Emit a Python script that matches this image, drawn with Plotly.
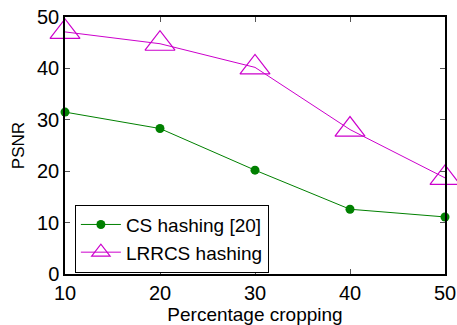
import plotly.graph_objects as go

x_vals = [10, 20, 30, 40, 50]
cs_hashing = [31.5, 28.3, 20.2, 12.6, 11.1]
lrrcs_hashing = [47.1, 44.8, 40.2, 28.1, 18.7]
x_ticks = [10, 20, 30, 40, 50]
y_ticks = [0, 10, 20, 30, 40, 50]

font_family = "Liberation Sans, Arial, sans-serif"

fig = go.Figure()
fig.add_trace(go.Scatter(
    x=x_vals, y=cs_hashing, mode="lines+markers", name="CS hashing [20]",
    line=dict(color="#008000", width=1),
    marker=dict(symbol="circle", size=9, color="#008000"),
    cliponaxis=False,
))
fig.add_trace(go.Scatter(
    x=x_vals, y=lrrcs_hashing, mode="lines+markers", name="LRRCS hashing",
    line=dict(color="#CC00CC", width=1),
    marker=dict(symbol="triangle-up-open", size=26, color="#CC00CC", line=dict(width=1.2)),
    cliponaxis=False,
))

fig.update_layout(
    template="none",
    width=457, height=325,
    margin=dict(l=65, r=12, t=17, b=51),
    paper_bgcolor="white", plot_bgcolor="white",
    font=dict(family=font_family, size=19, color="black"),
    showlegend=True,
    legend=dict(
        x=0.026, y=0.27, xanchor="left", yanchor="top",
        bgcolor="white", bordercolor="black", borderwidth=1,
        font=dict(size=19), tracegroupgap=0, itemsizing="trace", itemwidth=40,
    ),
)
fig.update_xaxes(
    range=[10, 50], tickvals=x_ticks, ticks="inside", ticklen=5, tickcolor="#555",
    showline=True, linecolor="black", linewidth=1.5, mirror="ticks", showgrid=False,
    zeroline=False, automargin=False, ticklabeloverflow="allow",
    title=dict(text="Percentage cropping", font=dict(size=19)),
    tickfont=dict(size=20),
)
fig.update_yaxes(
    range=[0, 50], tickvals=y_ticks, ticks="inside", ticklen=5, tickcolor="#555",
    showline=True, linecolor="black", linewidth=1.5, mirror="ticks", showgrid=False,
    zeroline=False, automargin=False, ticklabeloverflow="allow",
    title=dict(text="PSNR", font=dict(size=17), standoff=8),
    tickfont=dict(size=20),
)

fig.write_html("out.html")
